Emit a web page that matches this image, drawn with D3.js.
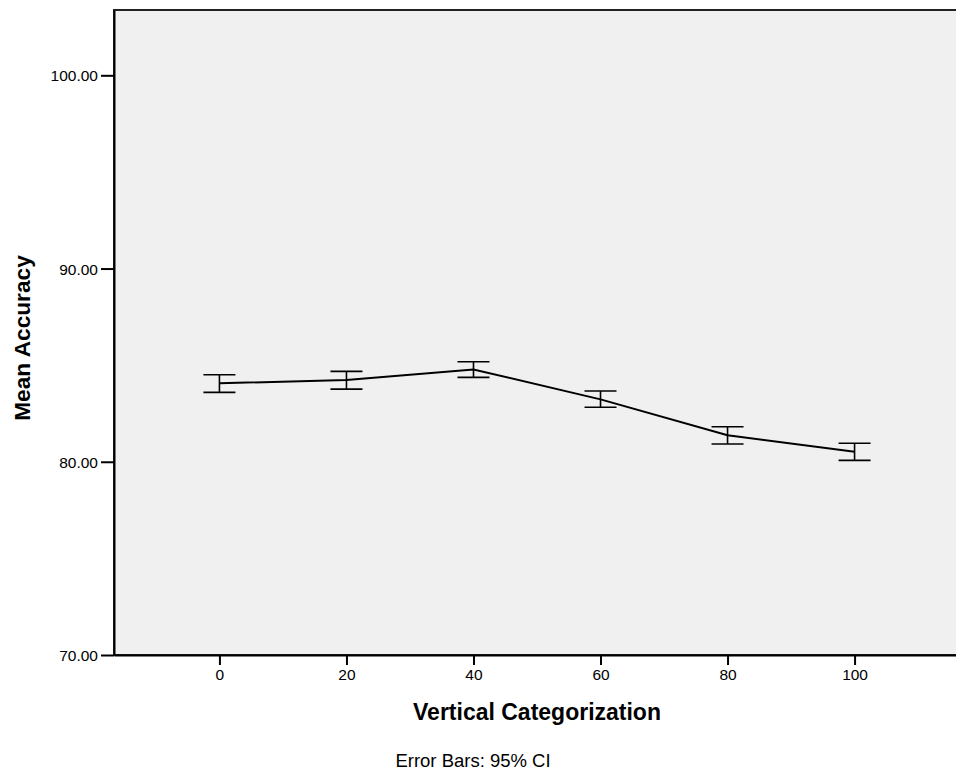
<!DOCTYPE html>
<html>
<head>
<meta charset="utf-8">
<script src="https://cdn.jsdelivr.net/npm/d3@7"></script>
<style>
  body { margin: 0; background: #fff; }
  text { font-family: "Liberation Sans", Arial, sans-serif; }
</style>
</head>
<body>
<div id="chart"></div>
<script>
// values
var categories = [0, 20, 40, 60, 80, 100];
var meanAccuracy = [84.06, 84.23, 84.78, 83.23, 81.37, 80.52];
var ciLow = [83.59, 83.76, 84.37, 82.82, 80.92, 80.07];
var ciHigh = [84.50, 84.68, 85.18, 83.66, 81.81, 80.96];
var yTicks = [70, 80, 90, 100];

var W = 956, H = 771;
var margin = { top: 10, left: 114, right: -4, bottom: 116 };
var width = W - margin.left - margin.right,
    height = H - margin.top - margin.bottom;

var svg = d3.select("#chart").append("svg")
    .attr("width", W)
    .attr("height", H);

var g = svg.append("g")
    .attr("transform", "translate(" + margin.left + "," + margin.top + ")");

var x = d3.scaleLinear().domain([-16.6, 116.6]).range([0, width]);
var y = d3.scaleLinear().domain([70, 103.38]).range([height, 0]);

var data = categories.map(function(c, i) {
    return { cat: c, mean: meanAccuracy[i], lo: ciLow[i], hi: ciHigh[i] };
});

// plot background + frame
g.append("rect")
    .attr("width", width)
    .attr("height", height)
    .attr("fill", "#f0f0f0")
    .attr("stroke", "#222")
    .attr("stroke-width", 2);

// axes
var yAxis = g.append("g")
    .call(d3.axisLeft(y).tickValues(yTicks).tickSize(13).tickSizeOuter(0).tickFormat(d3.format(".2f")));
var xAxis = g.append("g")
    .attr("transform", "translate(0," + height + ")")
    .call(d3.axisBottom(x).tickValues(categories).tickSize(10).tickSizeOuter(0));

[yAxis, xAxis].forEach(function(a) {
    a.attr("font-size", 15.5)
        .attr("font-family", "'Liberation Sans', Arial, sans-serif");
    a.select(".domain").attr("stroke", "#000").attr("stroke-width", 2);
    a.selectAll(".tick line").attr("stroke", "#000").attr("stroke-width", 2);
    a.selectAll(".tick text").attr("fill", "#000");
});
yAxis.selectAll(".tick text").attr("x", -16).attr("dy", "0.36em");
xAxis.selectAll(".tick text").attr("y", 14);

// line through means
var line = d3.line()
    .x(function(d) { return x(d.cat); })
    .y(function(d) { return y(d.mean); });

g.append("path")
    .datum(data)
    .attr("d", line)
    .attr("fill", "none")
    .attr("stroke", "#000")
    .attr("stroke-width", 2);

// error bars
var bars = g.append("g").selectAll("g").data(data).enter().append("g")
    .attr("stroke", "#000")
    .attr("stroke-width", 1.6);

bars.append("line")
    .attr("x1", function(d) { return x(d.cat); })
    .attr("x2", function(d) { return x(d.cat); })
    .attr("y1", function(d) { return y(d.lo); })
    .attr("y2", function(d) { return y(d.hi); });

bars.append("line")
    .attr("x1", function(d) { return x(d.cat) - 16; })
    .attr("x2", function(d) { return x(d.cat) + 16; })
    .attr("y1", function(d) { return y(d.hi); })
    .attr("y2", function(d) { return y(d.hi); });

bars.append("line")
    .attr("x1", function(d) { return x(d.cat) - 16; })
    .attr("x2", function(d) { return x(d.cat) + 16; })
    .attr("y1", function(d) { return y(d.lo); })
    .attr("y2", function(d) { return y(d.lo); });

// titles
svg.append("text")
    .attr("x", 537)
    .attr("y", 720)
    .attr("text-anchor", "middle")
    .style("font-size", "23px")
    .style("font-weight", "bold")
    .text("Vertical Categorization");

svg.append("text")
    .attr("transform", "translate(30,338) rotate(-90)")
    .attr("text-anchor", "middle")
    .style("font-size", "22.7px")
    .style("font-weight", "bold")
    .text("Mean Accuracy");

svg.append("text")
    .attr("x", 473)
    .attr("y", 767)
    .attr("text-anchor", "middle")
    .style("font-size", "18.5px")
    .text("Error Bars: 95% CI");
</script>
</body>
</html>
